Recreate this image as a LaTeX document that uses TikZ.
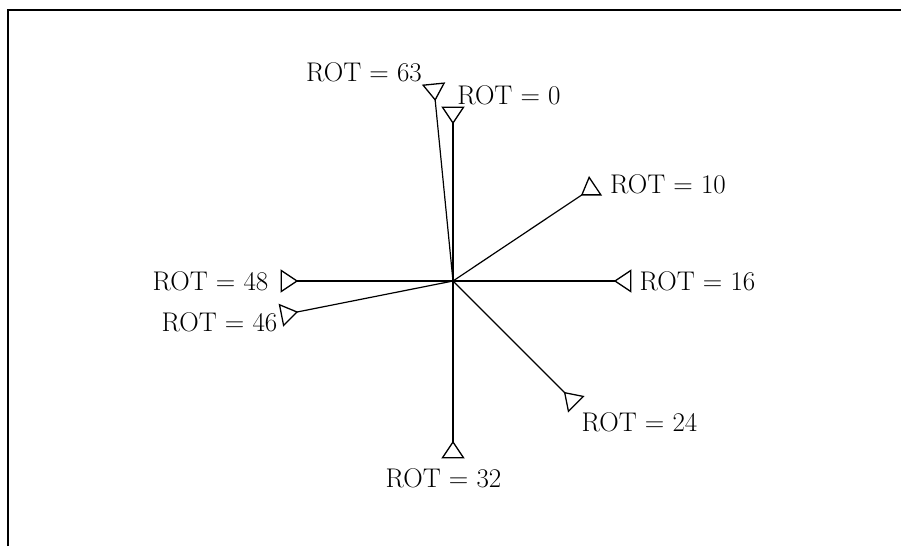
\documentclass[tikz,border=0pt]{standalone}
\usetikzlibrary{positioning}

\begin{document}
\begin{tikzpicture}[
    x=1pt, y=1pt,
    spoke/.style={line width=1.2pt},
    rotlab/.style={font=\fontsize{27}{32}\selectfont, inner sep=0pt},
    rotmark/.pic={\draw[line width=1.3pt, line join=miter]
        (0,0) -- (33.7:19) -- (-33.7:19) -- cycle;}
]
\useasboundingbox (-453,-265) rectangle (448,281);

% Frame (open at right and bottom)
\draw[line width=1.5pt] (-445,-265) -- (-445,271) -- (448,271);

% Centre and spoke ends, angle = 90 - 5.625*ROT
\coordinate (O)   at (0,0);
\coordinate (t0)  at (90:158);
\coordinate (t63) at (95.625:182);
\coordinate (t10) at (33.75:155);
\coordinate (t16) at (0:162);
\coordinate (t24) at (-45:158);
\coordinate (t32) at (-90:161);
\coordinate (t46) at (191.25:159);
\coordinate (t48) at (180:156);

% Spokes
\draw[spoke] (O) -- (t0);
\draw[spoke] (O) -- (t63);
\draw[spoke] (O) -- (t10);
\draw[spoke] (O) -- (t16);
\draw[spoke] (O) -- (t24);
\draw[spoke] (O) -- (t32);
\draw[spoke] (O) -- (t46);
\draw[spoke] (O) -- (t48);

% Triangle markers, apex towards the centre
\pic[rotate=90]     at (t0)  {rotmark};
\pic[rotate=95.625] at (t63) {rotmark};
\pic[rotate=33.75]  at (t10) {rotmark};
\pic[rotate=0]      at (t16) {rotmark};
\pic[rotate=-45]    at (t24) {rotmark};
\pic[rotate=-90]    at (t32) {rotmark};
\pic[rotate=191.25] at (t46) {rotmark};
\pic[rotate=180]    at (t48) {rotmark};

% Labels
\node[rotlab] (l63) at (-89,209)   {ROT = 63};
\node[rotlab] (l0)  at (56,186)    {ROT = 0};
\node[rotlab] (l10) at (215,97)    {ROT = 10};
\node[rotlab] (l16) at (244.5,0)   {ROT = 16};
\node[rotlab] (l24) at (186.5,-141) {ROT = 24};
\node[rotlab] (l32) at (-9.5,-197) {ROT = 32};
\node[rotlab] (l46) at (-233.5,-41) {ROT = 46};
\node[rotlab] (l48) at (-242.5,0)  {ROT = 48};

\end{tikzpicture}
\end{document}
